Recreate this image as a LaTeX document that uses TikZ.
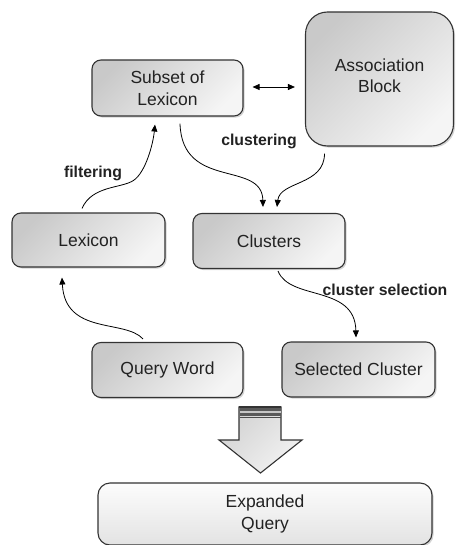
\documentclass[tikz,border=0pt]{standalone}
\usepackage{fontspec}
\setmainfont{Liberation Sans}
\usetikzlibrary{arrows.meta,shadows,calc}
\definecolor{edge}{HTML}{333333}
\definecolor{txt}{HTML}{222222}
\tikzset{
  box/.style={draw=edge, line width=1.1pt, rounded corners=9pt,
    top color=gray!42, bottom color=gray!8, shading angle=45,
    drop shadow={shadow xshift=1.6pt, shadow yshift=-1.6pt, opacity=0.35},
    text=txt, align=center, inner sep=0pt,
    font=\fontsize{17.5}{21.5}\selectfont},
  lbl/.style={font=\fontsize{15.8}{18}\selectfont\bfseries, text=txt, inner sep=0pt},
  conn/.style={line width=0.8pt, black, -{Triangle[length=7pt,width=6pt]}},
}
\begin{document}
\begin{tikzpicture}[x=1pt,y=-1pt]
\useasboundingbox (0,0) rectangle (455,545);
% boxes
\node[box, minimum width=151pt, minimum height=56pt] (sub) at (167.5,88) {Subset of\\Lexicon};
\node[box, rounded corners=22pt, minimum width=148pt, minimum height=134pt] (assoc) at (379.5,79) {Association\\Block\\[-14.5pt]\mbox{}};
\node[box, minimum width=153pt, minimum height=54pt] (lex) at (88.5,240) {Lexicon};
\node[box, minimum width=152pt, minimum height=55pt] (clu) at (269,241) {Clusters};
\node[box, minimum width=151pt, minimum height=55pt] (qw) at (167.5,370) {Query Word};
\node[box, minimum width=153pt, minimum height=55pt] (sel) at (358.5,369.5) {Selected Cluster};
\node[box, rounded corners=12pt, top color=gray!2, bottom color=gray!22, shading angle=0,
      minimum width=334pt, minimum height=62pt] (exp) at (265,514) {Expanded\\Query};
% labels
\node[lbl] (lfilt) at (93,173) {filtering};
\node[lbl] (lclus) at (259,141) {clustering};
\node[lbl] (lsel) at (385,290) {cluster selection};
% connectors
\draw[line width=0.8pt, {Triangle[length=7pt,width=6pt]}-{Triangle[length=7pt,width=6pt]}]
  ($(sub.east)+(9,-1)$) -- ($(sub.east -| assoc.west)+(-10,-1)$);
\draw[conn] ($(lex.north)+(-6.5,-4)$) .. controls +(10,-23) and +(-12,8) .. ($(lex.north)+(45,-32)$)
  .. controls +(12,-8) and +(-2,20) .. ($(sub.south)+(-12.5,8)$);
\draw[conn] ($(sub.south)+(12.5,7)$) .. controls +(2,67) and +(-1,-47) .. ($(clu.north)+(-6,-6)$);
\draw[conn] ($(assoc.south)+(-55,7)$) .. controls +(0,32) and +(3,-26) .. ($(clu.north)+(8,-6)$);
\draw[conn] ($(qw.north)+(-24.5,-3)$) .. controls +(-18,-20) and +(3,58) .. ($(lex.south)+(-26.5,10)$);
\draw[conn] ($(clu.south)+(9,2)$) .. controls +(12,30) and +(-1,-53) .. ($(sel.north)+(-2.5,-4)$);
% big arrow
\path[draw=edge, line width=1.1pt, top color=gray!35, bottom color=gray!10, shading angle=45]
  (239,407) -- (281,407) -- (281,440) -- (302,440) -- (260.5,473) -- (219,440) -- (239,440) -- cycle;
\fill[gray!70!black] (239.5,407.5) rectangle (280.5,411);
\fill[gray!45] (239.5,411) rectangle (280.5,413);
\fill[gray!70!black] (239.5,413) rectangle (280.5,416);
\draw[gray!60!black, line width=0.8pt] (239.5,417.5) -- (280.5,417.5);
\draw[edge, line width=1.1pt] (239,407) -- (281,407);
\end{tikzpicture}
\end{document}
